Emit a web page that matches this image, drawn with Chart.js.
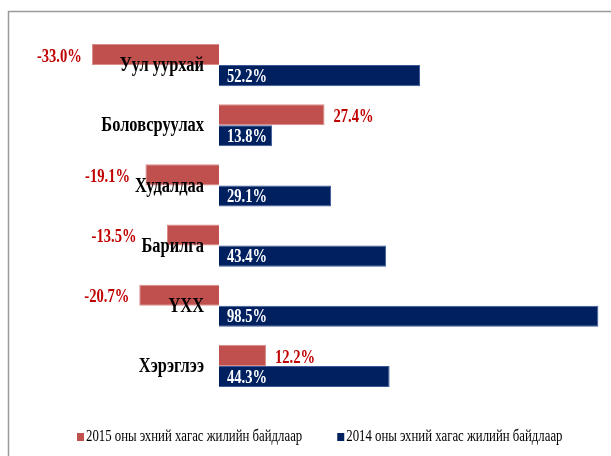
<!DOCTYPE html>
<html>
<head>
<meta charset="utf-8">
<script src="https://cdn.jsdelivr.net/npm/chart.js@4"></script>
<style>
  html, body { margin: 0; padding: 0; background: #fff; }
  #wrap { width: 611px; height: 456px; position: relative; }
</style>
</head>
<body>
<div id="wrap"><canvas id="chart"></canvas></div>
<script>
// Data
const categories = ['Уул уурхай', 'Боловсруулах', 'Худалдаа', 'Барилга', 'ҮХХ', 'Хэрэглээ'];
const seriesNames = ['2015 оны эхний хагас жилийн байдлаар', '2014 оны эхний хагас жилийн байдлаар'];
const values2015 = [-33.0, 27.4, -19.1, -13.5, -20.7, 12.2];
const values2014 = [52.2, 13.8, 29.1, 43.4, 98.5, 44.3];

const RED = '#C0504D';
const NAVY = '#002060';
const SERIF = '"Liberation Serif", "DejaVu Serif", serif';

// the original text is a narrow Times, so squeeze it horizontally
function drawText(ctx, text, x, y, opts) {
  ctx.save();
  ctx.font = opts.font;
  ctx.fillStyle = opts.color;
  ctx.textAlign = opts.align || 'left';
  ctx.textBaseline = 'middle';
  ctx.translate(x, y);
  ctx.scale(opts.squeeze || 0.8, 1);
  ctx.fillText(text, 0, 0);
  ctx.restore();
}

function textWidth(ctx, text, font, squeeze) {
  ctx.save();
  ctx.font = font;
  const w = ctx.measureText(text).width * squeeze;
  ctx.restore();
  return w;
}

const catFont = 'bold 20px ' + SERIF;
const valFont = 'bold 18px ' + SERIF;
const legendFont = '16px ' + SERIF;

const labelsPlugin = {
  id: 'labels',
  beforeDraw(chart) {
    const ctx = chart.ctx;
    // outer frame, cut off at the right and bottom in the original
    ctx.save();
    ctx.strokeStyle = '#9a9a9a';
    ctx.lineWidth = 1.5;
    ctx.beginPath();
    ctx.moveTo(611, 11.5);
    ctx.lineTo(8.5, 11.5);
    ctx.lineTo(8.5, 456);
    ctx.stroke();
    ctx.restore();
  },
  afterDatasetsDraw(chart) {
    const ctx = chart.ctx;
    const xs = chart.scales.x;
    const ys = chart.scales.y;
    const zero = xs.getPixelForValue(0);
    const catLeft = [];

    // category names sit next to the zero line
    categories.forEach((name, i) => {
      const right = zero - 15;
      const y = ys.getPixelForValue(i) + 1;
      drawText(ctx, name, right, y, { font: catFont, color: '#000', align: 'right', squeeze: 0.82 });
      catLeft.push(right - textWidth(ctx, name, catFont, 0.82));
    });

    // 2015: red labels outside the bar end
    chart.getDatasetMeta(0).data.forEach((bar, i) => {
      const v = values2015[i];
      const txt = v.toFixed(1) + '%';
      const y = bar.y + 2.5;
      if (v < 0) {
        const right = Math.min(bar.x - 10, catLeft[i] - 5);
        drawText(ctx, txt, right, y, { font: valFont, color: '#C00000', align: 'right', squeeze: 0.81 });
      } else {
        drawText(ctx, txt, bar.x + 9, y, { font: valFont, color: '#C00000', align: 'left', squeeze: 0.81 });
      }
    });

    // 2014: white labels inside the bar base
    chart.getDatasetMeta(1).data.forEach((bar, i) => {
      const txt = values2014[i].toFixed(1) + '%';
      drawText(ctx, txt, bar.base + 8, bar.y + 1.5, { font: valFont, color: '#fff', align: 'left', squeeze: 0.81 });
    });

    // legend
    const colors = [RED, NAVY];
    let x = 77;
    const y = 437;
    seriesNames.forEach((name, i) => {
      ctx.fillStyle = colors[i];
      ctx.fillRect(x, y - 4, 7, 8);
      drawText(ctx, name, x + 9, y, { font: legendFont, color: '#000', align: 'left', squeeze: 0.8 });
      x += 9 + textWidth(ctx, name, legendFont, 0.8) + 35;
    });
  }
};

new Chart(document.getElementById('chart'), {
  type: 'bar',
  data: {
    labels: categories,
    datasets: [
      {
        label: seriesNames[0],
        data: values2015,
        backgroundColor: RED,
        borderColor: '#d98c8a',
        borderWidth: 1,
        categoryPercentage: 0.7,
        barPercentage: 1
      },
      {
        label: seriesNames[1],
        data: values2014,
        backgroundColor: NAVY,
        borderColor: '#3a5a9a',
        borderWidth: 1,
        categoryPercentage: 0.7,
        barPercentage: 1
      }
    ]
  },
  options: {
    indexAxis: 'y',
    responsive: true,
    maintainAspectRatio: false,
    animation: false,
    layout: {
      padding: { left: 11, right: 3, top: 35, bottom: 60 }
    },
    plugins: {
      legend: { display: false },
      tooltip: { enabled: false }
    },
    scales: {
      x: { display: false, min: -54, max: 101 },
      y: { display: false }
    }
  },
  plugins: [labelsPlugin]
});
</script>
</body>
</html>
